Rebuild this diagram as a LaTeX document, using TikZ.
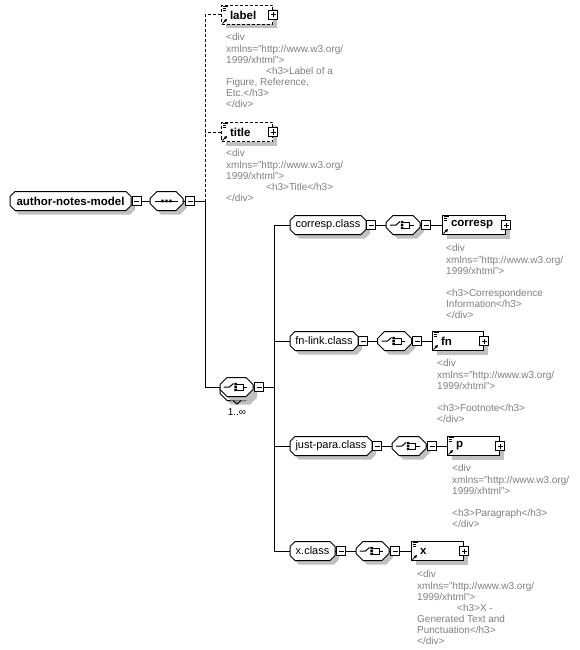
\documentclass[tikz,border=0pt]{standalone}
\usepackage{fontspec}
\setmainfont{Liberation Sans}
\usetikzlibrary{shadows,arrows.meta,calc}
\pgfdeclarelayer{background}
\pgfsetlayers{background,main}
\definecolor{shadowc}{RGB}{192,192,192}
\definecolor{anngray}{RGB}{128,128,128}

\tikzset{
  conn/.style={line width=1pt},
  octtext/.style={inner sep=0pt, minimum height=19pt, font=\fontsize{11}{13}\selectfont},
  boldlabel/.style={font=\bfseries\fontsize{11.5}{13}\selectfont},
  sqbox/.style={draw, fill=white, line width=1pt, minimum size=9pt, inner sep=0pt},
  minusbox/.style={sqbox, path picture={\draw[line width=1pt] ([xshift=2pt]path picture bounding box.west) -- ([xshift=-2pt]path picture bounding box.east);}},
  plusbox/.style={sqbox, path picture={\draw[line width=1pt] ([xshift=2pt]path picture bounding box.west) -- ([xshift=-2pt]path picture bounding box.east); \draw[line width=1pt] ([yshift=-2pt]path picture bounding box.north) -- ([yshift=2pt]path picture bounding box.south);}},
  elembox/.style={draw, fill=white, line width=1pt, inner sep=0pt, minimum height=19pt, align=left, font=\bfseries\fontsize{11.5}{13}\selectfont, drop shadow={shadow xshift=4pt, shadow yshift=-4pt, fill=shadowc, opacity=1}},
  optional/.style={dash pattern=on 3pt off 2pt},
  ann/.style={anchor=north west, inner sep=0pt, align=left, text=anngray, font=\fontsize{10}{11.15}\selectfont},
  docicon/.pic={\draw[line width=0.8pt] (1.5,1.5) -- (6.5,1.5) (1.5,3.5) -- (5,3.5) (1.5,5.5) -- (5,5.5);},
  refarrow/.pic={\draw[line width=1pt, -{Triangle[length=3pt,width=3pt]}] (1.5,-1.5) -- (6,-6);},
  seqicon/.pic={\draw[line width=1pt] (-11.5,0) -- (11.5,0);
    \fill (-5.2,-1.3) rectangle (-2.8,1.3) (-1.2,-1.3) rectangle (1.2,1.3) (2.8,-1.3) rectangle (5.2,1.3);},
  choiceicon/.pic={\draw[line width=1pt] (-13,0) -- (-7,0) -- (-3,-3.5);
    \fill (-2.2,-4.2) rectangle (0.3,-1.8) (-2.2,-1.2) rectangle (0.3,1.2) (-2.2,1.8) rectangle (0.3,4.2);
    \draw[line width=1pt] (0.3,-3) -- (6.5,-3) -- (6.5,3) -- (0.3,3) (6.5,0) -- (10.5,0);},
}

\newcommand\octpath[5]{%
  \path[#1] ({#2-#4+#5},{#3-9.5}) -- ({#2+#4-#5},{#3-9.5}) -- ({#2+#4},{#3-9.5+#5}) -- ({#2+#4},{#3+9.5-#5}) -- ({#2+#4-#5},{#3+9.5}) -- ({#2-#4+#5},{#3+9.5}) -- ({#2-#4},{#3+9.5-#5}) -- ({#2-#4},{#3-9.5+#5}) -- cycle;}
\newcommand\octnode[7]{%
  \node[octtext,#6,minimum width=#4pt] (#1) at (#2,#3) {#7};
  \begin{pgfonlayer}{background}
    \octpath{fill=shadowc,shift={(4,4)}}{#2}{#3}{#4/2}{#5}
    \octpath{fill=white,draw=black,line width=1pt}{#2}{#3}{#4/2}{#5}
  \end{pgfonlayer}}
\newcommand\elemnode[6]{%
  \node[elembox,#6,minimum width=#4pt,text width=#4pt,anchor=west] (#1) at (#2,#3) {\hspace*{8.5pt}#5};
  \pic at (#1.north west) {docicon};
  \pic at (#1.south west) {refarrow};
  \node[plusbox] (#1-plus) at (#1.east) {};}

\begin{document}
\begin{tikzpicture}[x=1pt,y=-1pt]
\begin{pgfonlayer}{background}
\fill[white] (0,0) rectangle (580,650);
\end{pgfonlayer}
\useasboundingbox (0,0) rectangle (580,650);

% root
\octnode{main}{70.5}{201}{121}{5}{boldlabel}{author-notes-model}
\node[minusbox] (mainminus) at (136.5,201) {};
\octnode{seq}{166.5}{201}{33}{7}{}{}
\pic at (seq.center) {seqicon};
\node[minusbox] (seqminus) at (190,201) {};
\coordinate (j1) at (205,201);

% optional elements
\elemnode{label}{221}{15}{51}{label}{optional}
\node[ann] (labelann) at (226,33.5) {<div\\xmlns="http://www.w3.org/\\1999/xhtml">\\\hspace*{40pt}<h3>Label of a\\Figure, Reference,\\Etc.</h3>\\</div>};
\elemnode{title}{221}{132}{51}{title}{optional}
\node[ann] (titleann) at (226,149.5) {<div\\xmlns="http://www.w3.org/\\1999/xhtml">\\\hspace*{40pt}<h3>Title</h3>\\</div>};

% repeated choice
\begin{pgfonlayer}{background}
\octpath{fill=shadowc,shift={(4,4)}}{236.5}{391}{16.5}{7}
\octpath{fill=white,draw=black,line width=1pt}{236.5}{391}{16.5}{7}
\end{pgfonlayer}
\octnode{choice}{236.5}{387}{33}{7}{}{}
\pic at (choice.center) {choiceicon};
\draw[line width=1pt] (233,400.5) -- (237,404) -- (241,400.5);
\node[minusbox] (choiceminus) at (259,387) {};
\node[font=\fontsize{10}{12}\selectfont, inner sep=0pt] (mult) at (237,412) {1..∞};
\coordinate (j2) at (274,387);

% branch 1
\octnode{c1}{328}{225}{76}{5}{}{corresp.class}
\node[minusbox] (c1m) at (371,225) {};
\octnode{k1}{403}{225}{34}{7}{}{}
\pic at (k1.center) {choiceicon};
\node[minusbox] (k1m) at (426,225) {};
\elemnode{corresp}{442}{225}{63}{corresp}{}
\node[ann] (correspann) at (446,244.5) {<div\\xmlns="http://www.w3.org/\\1999/xhtml">\\\mbox{}\\<h3>Correspondence\\Information</h3>\\</div>};

% branch 2
\octnode{c2}{324}{341}{68}{5}{}{fn-link.class}
\node[minusbox] (c2m) at (363,341) {};
\octnode{k2}{394.5}{341}{34}{7}{}{}
\pic at (k2.center) {choiceicon};
\node[minusbox] (k2m) at (417,341) {};
\elemnode{fn}{432}{341}{51}{fn}{}
\node[ann] (fnann) at (437,359.5) {<div\\xmlns="http://www.w3.org/\\1999/xhtml">\\\mbox{}\\<h3>Footnote</h3>\\</div>};

% branch 3
\octnode{c3}{331}{446}{82}{5}{}{just-para.class}
\node[minusbox] (c3m) at (377,446) {};
\octnode{k3}{409}{446}{34}{7}{}{}
\pic at (k3.center) {choiceicon};
\node[minusbox] (k3m) at (432,446) {};
\elemnode{p}{447}{446}{52}{p}{}
\node[ann] (pann) at (452,464.5) {<div\\xmlns="http://www.w3.org/\\1999/xhtml">\\\mbox{}\\<h3>Paragraph</h3>\\</div>};

% branch 4
\octnode{c4}{312.5}{551}{45}{5}{}{x.class}
\node[minusbox] (c4m) at (341,551) {};
\octnode{k4}{372.5}{551}{33}{7}{}{}
\pic at (k4.center) {choiceicon};
\node[minusbox] (k4m) at (395,551) {};
\elemnode{x}{411}{551}{52}{x}{}
\node[ann] (xann) at (417,570.5) {<div\\xmlns="http://www.w3.org/\\1999/xhtml">\\\hspace*{40pt}<h3>X -\\Generated Text and\\Punctuation</h3>\\</div>};

% connectors
\draw[conn] (main.east) -- (mainminus.west);
\draw[conn] (mainminus.east) -- (seq.west);
\draw[conn] (seq.east) -- (seqminus.west);
\draw[conn] (seqminus.east) -- (j1) |- (choice.west);
\draw[conn,optional] (label.west) -| (j1);
\draw[conn,optional] (title.west) -- (title.west -| j1);
\draw[conn] (choice.east) -- (choiceminus.west);
\draw[conn] (choiceminus.east) -- (j2);
\foreach \i/\e in {1/corresp,2/fn,3/p,4/x}{
  \draw[conn] (c\i.west) -| (j2);
  \draw[conn] (c\i.east) -- (c\i m.west);
  \draw[conn] (c\i m.east) -- (k\i.west);
  \draw[conn] (k\i.east) -- (k\i m.west);
  \draw[conn] (k\i m.east) -- (\e.west);
}
\end{tikzpicture}
\end{document}
